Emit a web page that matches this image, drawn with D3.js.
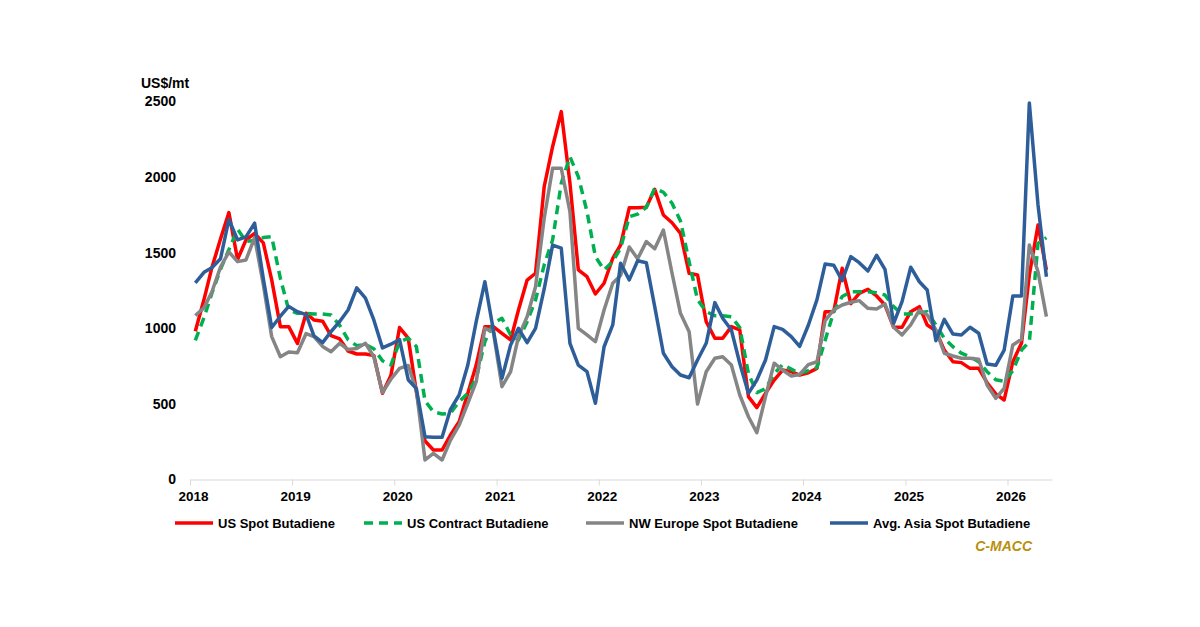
<!DOCTYPE html>
<html>
<head>
<meta charset="utf-8">
<script src="https://cdn.jsdelivr.net/npm/d3@7"></script>
<style>
  body { margin: 0; background: #fff; }
  svg text { font-family: "Liberation Sans", Arial, sans-serif; font-weight: bold; fill: #000; }
</style>
</head>
<body>
<div id="chart"></div>
<script>
// monthly prices, Jan 2018 - May 2026 (US$/mt)
const usSpot = [980,1190,1400,1590,1765,1455,1584,1628,1565,1320,
    1011,1011,900,1100,1055,1047,952,930,850,830,
    830,820,570,688,1005,935,580,255,195,195,
    294,382,570,757,1011,1011,967,923,1121,1319,
    1364,1937,2201,2433,1960,1386,1341,1227,1298,1463,
    1551,1797,1797,1800,1919,1749,1698,1628,1364,1353,
    1044,934,934,1011,989,548,475,570,658,724,
    713,691,706,735,1110,1110,1397,1163,1231,1258,
    1214,1154,1007,1007,1110,1143,1022,984,856,779,
    773,735,735,640,566,526,779,901,1353,1683,
    1386];

const usContract = [920,1070,1230,1390,1520,1655,1575,1580,1600,1606,
    1330,1120,1099,1099,1095,1095,1088,1020,925,885,
    892,865,785,757,910,935,880,520,448,433,
    438,515,570,669,911,1033,1066,956,923,1044,
    1187,1420,1584,1959,2135,2003,1771,1474,1386,1441,
    1530,1738,1755,1800,1926,1900,1827,1710,1440,1190,
    1110,1083,1083,1077,1005,700,575,600,700,760,
    730,700,720,740,920,1110,1210,1242,1242,1242,
    1235,1220,1143,1095,1095,1103,1110,1022,934,878,
    835,812,779,713,660,650,720,856,911,1562,
    1600];

const nweSpot = [1085,1135,1240,1405,1505,1441,1452,1600,1290,945,
    812,843,838,965,945,880,845,901,860,866,
    901,812,575,663,735,754,592,129,173,129,
    261,360,504,647,1000,978,614,713,945,1077,
    1275,1728,2058,2058,1771,1000,956,911,1121,1298,
    1350,1538,1460,1573,1526,1650,1364,1099,978,499,
    713,802,812,757,559,415,310,548,769,724,
    685,695,760,779,1050,1123,1154,1172,1183,1132,
    1128,1161,1007,956,1022,1121,1088,989,835,817,
    802,802,795,625,537,603,890,927,1551,1374,
    1077];

const asiaSpot = [1300,1370,1400,1460,1720,1585,1605,1695,1330,1005,
    1080,1145,1110,1090,950,905,978,1045,1121,1268,
    1199,1055,870,895,925,660,602,283,280,280,
    464,559,757,1044,1308,990,669,890,1000,905,
    1000,1260,1550,1530,900,757,713,504,878,1022,
    1430,1320,1447,1434,1143,835,746,691,673,790,
    901,1170,1066,989,769,570,658,790,1011,993,
    945,880,1020,1190,1425,1417,1315,1474,1434,1379,
    1483,1390,1033,1176,1404,1308,1253,918,1059,962,
    956,1007,967,764,755,856,1214,1214,2490,1816,
    1341];

const seriesNames = ["US Spot Butadiene", "US Contract Butadiene", "NW Europe Spot Butadiene", "Avg. Asia Spot Butadiene"];
const yTicks = [0, 500, 1000, 1500, 2000, 2500];

// one date per month, plotted late in the month
const months = d3.timeMonth.range(new Date(2018, 0, 1), new Date(2026, 5, 1))
    .map(d => new Date(d.getFullYear(), d.getMonth(), 20));

(function butadiene_chart() {
    const width = 1200,
        height = 627,
        margin = ({ top: 101.5, right: 148, bottom: 147.5, left: 190 });

    const svg = d3.select("#chart")
        .append("svg")
        .attr("width", width)
        .attr("height", height)
        .attr("viewBox", [0, 0, width, height]);

    const series = [
        { name: seriesNames[0], values: usSpot, color: "#ff0000", dash: null },
        { name: seriesNames[1], values: usContract, color: "#00b050", dash: "9,6" },
        { name: seriesNames[2], values: nweSpot, color: "#858585", dash: null },
        { name: seriesNames[3], values: asiaSpot, color: "#2e5e99", dash: null }
    ];

    let x = d3.scaleTime()
        .domain([new Date(2018, 0, 1), new Date(2026, 5, 9)])
        .range([margin.left, width - margin.right]);

    let y = d3.scaleLinear()
        .domain([0, 2500])
        .range([height - margin.bottom, margin.top]);

    // x axis
    let xAxis = svg.append("g")
        .attr("transform", `translate(0,${height - margin.bottom})`)
        .call(d3.axisBottom(x)
            .ticks(d3.timeYear.every(1))
            .tickFormat(d3.timeFormat("%Y"))
            .tickSizeInner(6)
            .tickSizeOuter(0)
            .tickPadding(6));
    xAxis.select(".domain").attr("stroke", "#d9d9d9");
    xAxis.selectAll(".tick line").attr("stroke", "#d9d9d9");
    xAxis.selectAll(".tick text")
        .attr("font-size", 13.5)
        .attr("dx", 3)
        .attr("font-family", "Liberation Sans, Arial, sans-serif")
        .attr("font-weight", "bold");

    // y axis, labels only
    let yAxis = svg.append("g")
        .attr("transform", `translate(${margin.left - 12},0)`)
        .call(d3.axisLeft(y)
            .tickValues(yTicks)
            .tickFormat(d => d)
            .tickSize(0)
            .tickPadding(2));
    yAxis.select(".domain").remove();
    yAxis.selectAll(".tick text")
        .attr("font-size", 14)
        .attr("font-family", "Liberation Sans, Arial, sans-serif")
        .attr("font-weight", "bold");

    svg.append("text")
        .attr("x", 141)
        .attr("y", 88)
        .attr("font-size", 14)
        .text("US$/mt");

    let line = d3.line()
        .x((d, i) => x(months[i]))
        .y(d => y(d));

    svg.append("g")
        .selectAll("path")
        .data(series)
        .join("path")
        .attr("d", d => line(d.values))
        .attr("fill", "none")
        .attr("stroke", d => d.color)
        .attr("stroke-width", 3.5)
        .attr("stroke-linejoin", "round")
        .attr("stroke-dasharray", d => d.dash);

    // legend
    const legendX = [175, 364, 586, 830];
    const legendY = 523;
    let legend = svg.append("g")
        .selectAll("g")
        .data(series)
        .join("g")
        .attr("transform", (d, i) => `translate(${legendX[i]},${legendY})`);

    legend.append("line")
        .attr("x1", 0)
        .attr("x2", 38)
        .attr("stroke", d => d.color)
        .attr("stroke-width", 3.5)
        .attr("stroke-dasharray", d => d.dash);

    legend.append("text")
        .attr("x", 43)
        .attr("y", 5)
        .attr("font-size", 13)
        .text(d => d.name);

    svg.append("text")
        .attr("x", 1032)
        .attr("y", 551)
        .attr("text-anchor", "end")
        .attr("font-size", 14)
        .attr("font-style", "italic")
        .style("fill", "#b8900c")
        .text("C-MACC");
})();
</script>
</body>
</html>
